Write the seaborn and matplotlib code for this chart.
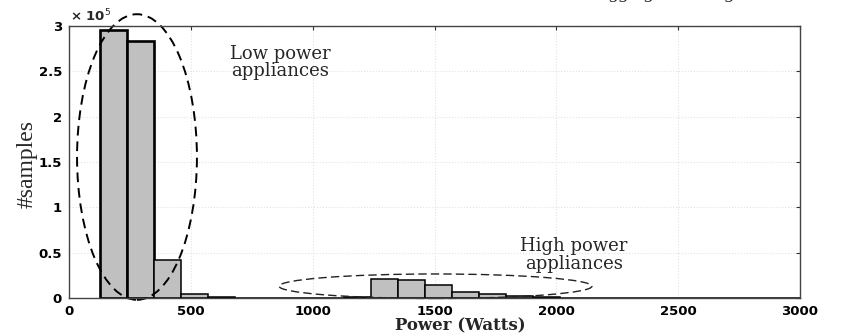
import numpy as np
import pandas as pd
import matplotlib
matplotlib.use("Agg")
import matplotlib.pyplot as plt
from matplotlib.patches import Ellipse
import seaborn as sns

# ---- data ----
bin_start = 128
bin_width = 111
counts = [2.96e5, 2.83e5, 0.42e5, 0.045e5, 0.012e5, 0.004e5, 0.002e5, 0.001e5,
          0.001e5, 0.015e5, 0.215e5, 0.20e5, 0.147e5, 0.07e5, 0.04e5, 0.02e5,
          0.01e5, 0.003e5, 0.001e5, 0.0, 0.0, 0.0, 0.0, 0.0, 0.0, 0.0]
xticks = [0, 500, 1000, 1500, 2000, 2500, 3000]
yticks = [0, 0.5e5, 1e5, 1.5e5, 2e5, 2.5e5, 3e5]
ytick_labels = ["0", "0.5", "1", "1.5", "2", "2.5", "3"]

edges = bin_start + bin_width * np.arange(len(counts) + 1)
centers = (edges[:-1] + edges[1:]) / 2
df = pd.DataFrame({"power": centers, "n": counts})

sns.set_style("white")
fig = plt.figure(figsize=(8.43, 3.36), dpi=100)
ax = fig.add_axes([69/843, 1-298/336, 731/843, 272/336])

sns.histplot(data=df, x="power", weights="n", binwidth=bin_width,
             binrange=(float(edges[0]), float(edges[-1])), color="#c0c0c0",
             edgecolor="black", linewidth=1.1, alpha=1.0, ax=ax)
for p in ax.patches:
    if p.get_height() > 1e5:
        p.set_linewidth(1.9)

ax.set_xlim(0, 3000)
ax.set_ylim(0, 3e5)
ax.set_xticks(xticks)
ax.set_yticks(yticks)
ax.set_yticklabels(ytick_labels)
for lab in ax.get_xticklabels() + ax.get_yticklabels():
    lab.set_fontfamily("DejaVu Sans")
    lab.set_fontweight("bold")
    lab.set_fontsize(9.5)
ax.tick_params(direction="in", length=3, width=0.8, top=True, right=True,
               colors="#333333", labelcolor="black", pad=5)
ax.grid(True, color="#e2e2e2", linestyle=":", linewidth=0.8)
ax.set_axisbelow(True)
for s in ax.spines.values():
    s.set_color("#444444")
    s.set_linewidth(1.0)

ax.set_xlabel("")
ax.set_ylabel("")
fig.text(460/843, 1-326/336, "Power (Watts)", family="DejaVu Serif",
         weight="bold", fontsize=12, ha="center", va="center")
fig.text(27/843, 1-164/336, "#samples", family="Liberation Serif", fontsize=17,
         rotation=90, ha="center", va="center")
fig.text(70/843, 1-16/336, "× 10$^{5}$", family="DejaVu Sans", weight="bold",
         fontsize=9.5, ha="left", va="center")

# annotations
ax.text(866, 2.60e5, "Low power\nappliances", family="DejaVu Serif",
        fontsize=13, ha="center", va="center", linespacing=0.95)
ax.text(2072, 0.474e5, "High power\nappliances", family="DejaVu Serif",
        fontsize=13, ha="center", va="center", linespacing=0.95)

e1 = Ellipse((279, 1.555e5), 492, 3.15e5, fill=False, ls=(0, (5, 3)),
             lw=1.4, ec="black", clip_on=False)
ax.add_patch(e1)
e2 = Ellipse((1504, 0.13e5), 1284, 0.27e5, fill=False, ls=(0, (6, 3)),
             lw=1.0, ec="#222222", clip_on=False)
ax.add_patch(e2)

# cut-off caption fragment at the very top
fig.text(600/843, 1 + 2/336, "aggregated using", family="Liberation Serif",
         style="italic", fontsize=14, ha="left", va="baseline")

fig.savefig("out.png", dpi=100)
